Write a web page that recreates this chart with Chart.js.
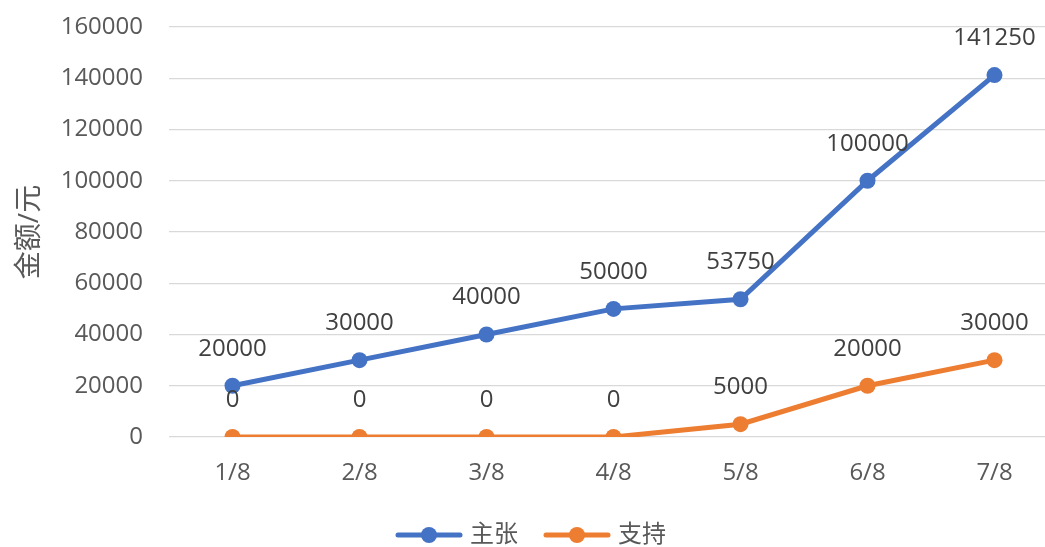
<!DOCTYPE html>
<html lang="zh">
<head>
  <meta charset="UTF-8">
  <title>金额</title>
  <script src="https://cdn.jsdelivr.net/npm/chart.js"></script>
  <style>
    html, body {
      margin: 0;
      padding: 0;
      background: #fff;
      overflow: hidden;
    }
    #wrap {
      width: 1066px;
      height: 557px;
    }
  </style>
</head>
<body>
<div id="wrap"><canvas id="grafico" width="1066" height="557"></canvas></div>
<script>
  const fechas = ["1/8", "2/8", "3/8", "4/8", "5/8", "6/8", "7/8"];
  const zhuzhang = [20000, 30000, 40000, 50000, 53750, 100000, 141250];
  const zhichi = [0, 0, 0, 0, 5000, 20000, 30000];

  const azul = "#4472C4";
  const naranja = "#ED7D31";
  const fuente = "'Open Sans', 'Noto Sans CJK SC', sans-serif";

  // icono de leyenda: linea con circulo
  function iconoLeyenda(color) {
    const c = document.createElement("canvas");
    c.width = 68;
    c.height = 20;
    const g = c.getContext("2d");
    g.strokeStyle = color;
    g.lineWidth = 5;
    g.lineCap = "round";
    g.beginPath();
    g.moveTo(3, 10);
    g.lineTo(65, 10);
    g.stroke();
    g.fillStyle = color;
    g.beginPath();
    g.arc(34, 10, 8, 0, Math.PI * 2);
    g.fill();
    return c;
  }

  // etiquetas de datos sobre cada punto
  const etiquetas = {
    id: "etiquetas",
    afterDatasetsDraw(chart) {
      const ctx = chart.ctx;
      ctx.save();
      ctx.font = "24px " + fuente;
      ctx.fillStyle = "#404040";
      ctx.textAlign = "center";
      ctx.textBaseline = "middle";
      chart.data.datasets.forEach((ds, i) => {
        chart.getDatasetMeta(i).data.forEach((p, j) => {
          ctx.fillText(String(ds.data[j]), p.x, p.y - 37);
        });
      });
      ctx.restore();
    }
  };

  new Chart(document.getElementById("grafico"), {
    type: "line",
    data: {
      labels: fechas,
      datasets: [
        {
          label: "主张",
          data: zhuzhang,
          borderColor: azul,
          backgroundColor: azul,
          borderWidth: 5,
          pointRadius: 8,
          pointHoverRadius: 8,
          pointBorderWidth: 0,
          tension: 0,
          legendIcon: iconoLeyenda(azul)
        },
        {
          label: "支持",
          data: zhichi,
          borderColor: naranja,
          backgroundColor: naranja,
          borderWidth: 5,
          pointRadius: 8,
          pointHoverRadius: 8,
          pointBorderWidth: 0,
          tension: 0,
          legendIcon: iconoLeyenda(naranja)
        }
      ]
    },
    options: {
      responsive: false,
      animation: false,
      layout: { padding: { top: 27, right: 0, left: 0, bottom: 0 } },
      scales: {
        x: {
          offset: true,
          grid: { display: false, drawTicks: false },
          border: { display: false },
          ticks: { color: "#595959", font: { family: fuente, size: 24 }, padding: 22 },
          afterFit(scale) { scale.height = 56; }
        },
        y: {
          min: 0,
          max: 160000,
          ticks: {
            stepSize: 20000,
            color: "#595959",
            font: { family: fuente, size: 24 },
            padding: 26,
            callback: v => String(v)
          },
          grid: { color: "#d9d9d9", lineWidth: 1.3, drawTicks: false },
          border: { display: false },
          title: {
            display: true,
            text: "金额/元",
            color: "#595959",
            font: { family: fuente, size: 28 },
            padding: { top: 13, bottom: 0 }
          },
          afterFit(scale) {
            scale.width = 169;
            scale.paddingTop = 0;
            scale.paddingBottom = 0;
          }
        }
      },
      plugins: {
        legend: {
          position: "bottom",
          labels: {
            usePointStyle: true,
            pointStyleWidth: 58,
            color: "#595959",
            font: { family: fuente, size: 24 },
            padding: 30,
            generateLabels(chart) {
              const base = Chart.defaults.plugins.legend.labels.generateLabels(chart);
              return base.map((it, i) => {
                it.pointStyle = chart.data.datasets[i].legendIcon;
                return it;
              });
            }
          }
        },
        tooltip: { enabled: false }
      }
    },
    plugins: [etiquetas]
  });
</script>
</body>
</html>
